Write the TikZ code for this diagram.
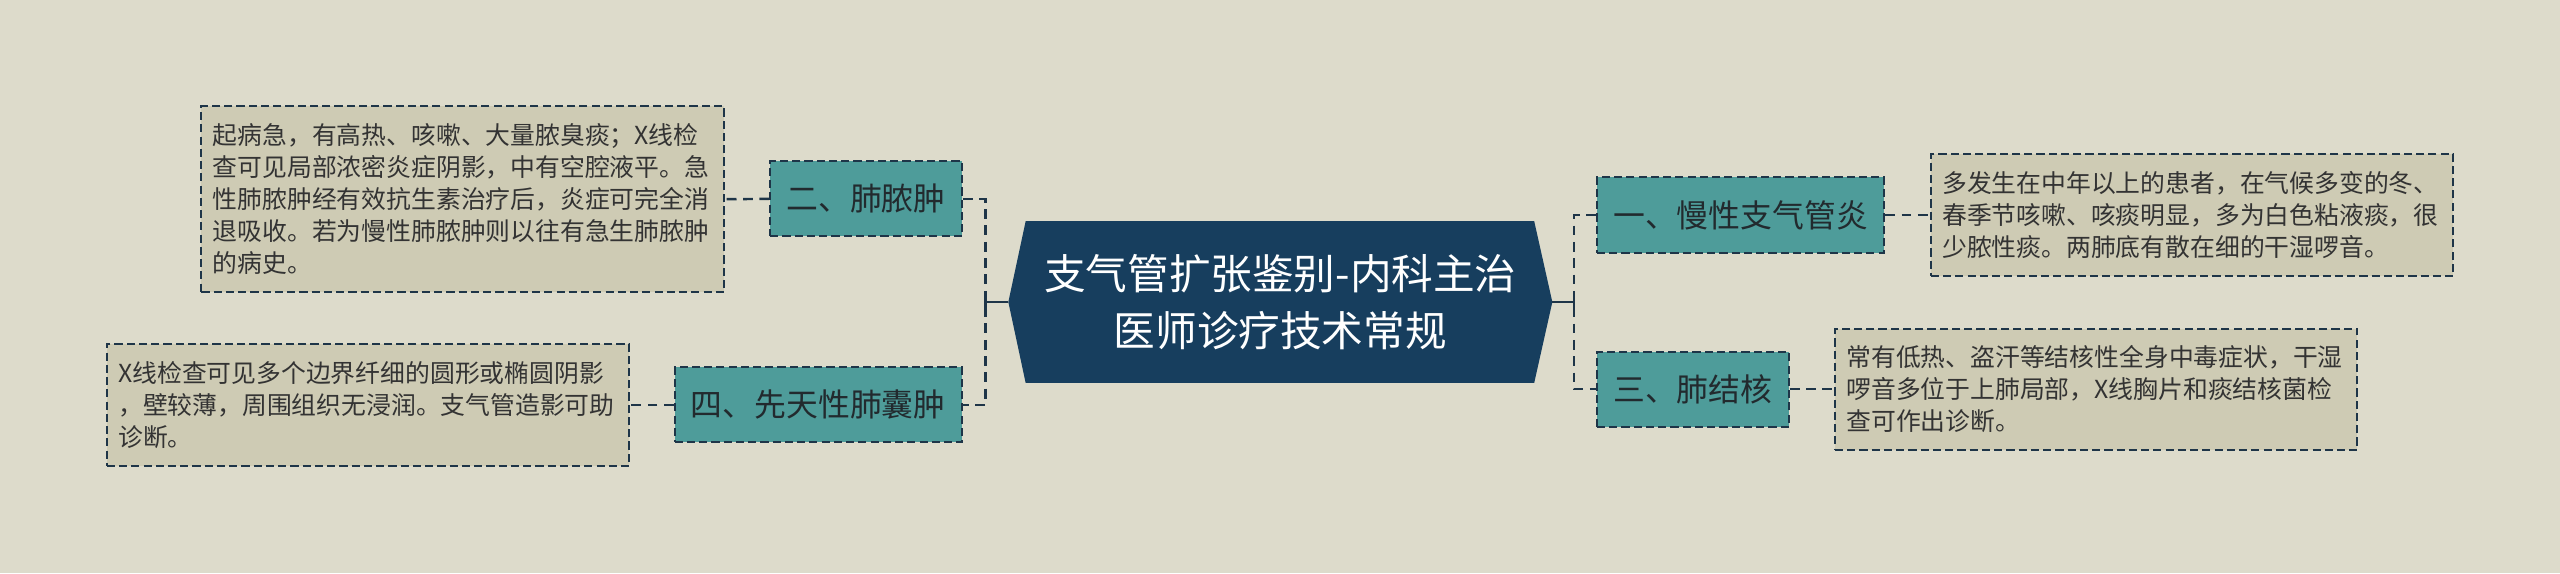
\documentclass[tikz,border=0pt]{standalone}
\usepackage{fontspec}
\setmainfont{Noto Sans CJK SC}
\pgfdeclarelayer{background}
\pgfsetlayers{background,main}
\definecolor{bgc}{HTML}{DDDBCB}
\definecolor{detfill}{HTML}{CECBB4}
\definecolor{tabfill}{HTML}{4E9C9A}
\definecolor{rootfill}{HTML}{173E5E}
\definecolor{bordc}{HTML}{1E3548}
\definecolor{txtc}{HTML}{333333}
\definecolor{tabtxt}{HTML}{222A2E}
\tikzset{
  detail/.style={draw=bordc, line width=1.2pt, dash pattern=on 5pt off 2.5pt, fill=detfill,
    text=txtc, font=\fontsize{15.2}{19.6}\selectfont, align=left, text width=306pt,
    inner xsep=7pt, inner ysep=0pt},
  tabbox/.style={draw=bordc, line width=1.2pt, dash pattern=on 5pt off 2.5pt, fill=tabfill,
    text=tabtxt, font=\fontsize{19.5}{23}\selectfont, inner xsep=10pt, inner ysep=0pt,
    minimum height=46pt},
  rootbox/.style={text=white, font=\fontsize{25.5}{35}\selectfont, align=center,
    minimum width=332.8pt, minimum height=98.6pt, inner sep=0pt},
  conn/.style={draw=bordc, line width=1.5pt, dash pattern=on 6pt off 4pt},
  solidconn/.style={draw=bordc, line width=1.5pt},
}
\begin{document}
\begin{tikzpicture}[x=1pt,y=1pt]
\begin{pgfonlayer}{background}
\fill[bgc] (0,0) rectangle (1568,-351);
\end{pgfonlayer}
\useasboundingbox (0,0) rectangle (1568,-351);

\node[rootbox] (root) at (784.2,-185) {支气管扩张鉴别-内科主治\\医师诊疗技术常规};
\begin{pgfonlayer}{background}
\fill[rootfill] (root.west) -- ([xshift=10.6pt]root.north west) -- ([xshift=-11.1pt]root.north east)
  -- (root.east) -- ([xshift=-11.1pt]root.south east) -- ([xshift=10.6pt]root.south west) -- cycle;
\end{pgfonlayer}

% left side
\node[tabbox, anchor=east] (t2) at (589.8,-121.8) {二、肺脓肿};
\node[tabbox, anchor=east] (t4) at (589.8,-248) {四、先天性肺囊肿};
\node[detail, anchor=east, minimum height=113.9pt] (d1) at (444,-122) {起病急，有高热、咳嗽、大量脓臭痰；X线检\\查可见局部浓密炎症阴影，中有空腔液平。急\\性肺脓肿经有效抗生素治疗后，炎症可完全消\\退吸收。若为慢性肺脓肿则以往有急生肺脓肿\\的病史。};
\node[detail, anchor=east, minimum height=74.7pt] (d2) at (386,-248) {X线检查可见多个边界纤细的圆形或椭圆阴影\\，壁较薄，周围组织无浸润。支气管造影可助\\诊断。};

% right side
\node[tabbox, anchor=west] (t1) at (977.5,-131.7) {一、慢性支气管炎};
\node[tabbox, anchor=west] (t3) at (977.5,-238.4) {三、肺结核};
\node[detail, anchor=west, minimum height=74.7pt] (r1) at (1182,-131.7) {多发生在中年以上的患者，在气候多变的冬、\\春季节咳嗽、咳痰明显，多为白色粘液痰，很\\少脓性痰。两肺底有散在细的干湿啰音。};
\node[detail, anchor=west, minimum height=74.1pt] (r2) at (1123.3,-238.4) {常有低热、盗汗等结核性全身中毒症状，干湿\\啰音多位于上肺局部，X线胸片和痰结核菌检\\查可作出诊断。};

\coordinate (busL) at (603.5,-185);
\coordinate (busR) at (964,-185);

% connectors
\draw[conn] (t2.east) -- ++(13.7,0) |- (t4.east);
\draw[solidconn] (root.west) -- (busL);
\draw[solidconn] ([yshift=4pt]busL) -- ([yshift=-4pt]busL);
\draw[conn] (t1.west) -- ++(-13.5,0) |- (t3.west);
\draw[solidconn] (root.east) -- (busR);
\draw[solidconn] ([yshift=4pt]busR) -- ([yshift=-4pt]busR);

\draw[conn] (t2.west) -- (d1.east);
\draw[conn] (t4.west) -- (d2.east);
\draw[conn] (t1.east) -- (r1.west);
\draw[conn] (t3.east) -- (r2.west);
\end{tikzpicture}
\end{document}
